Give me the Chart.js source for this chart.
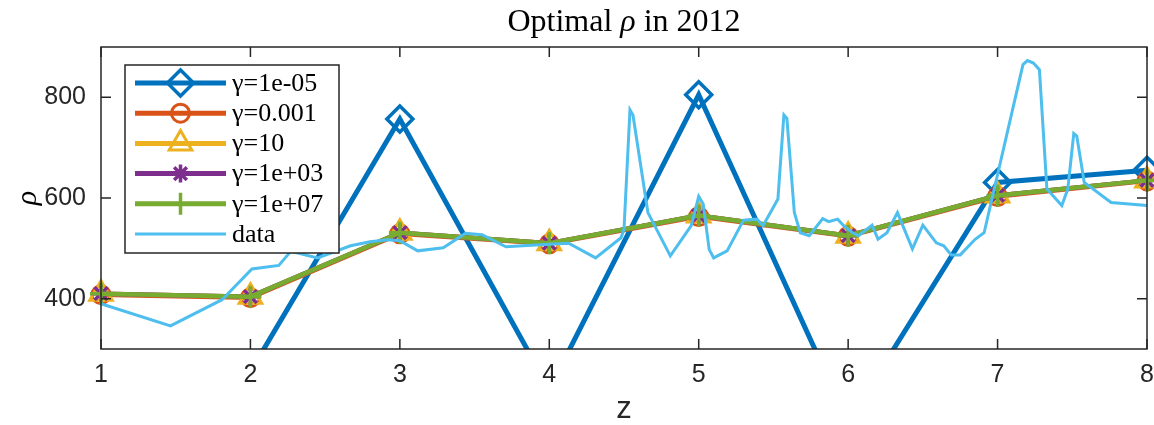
<!DOCTYPE html>
<html>
<head>
<meta charset="utf-8">
<script src="https://cdn.jsdelivr.net/npm/chart.js@4.4.1/dist/chart.umd.min.js"></script>
<style>
  html, body { margin: 0; padding: 0; background: #ffffff; }
  #wrap { width: 1154px; height: 425px; }
</style>
</head>
<body>
<div id="wrap"><canvas id="rhoChart" width="1154" height="425"></canvas></div>
<script>
// optimal rho per z, one list per gamma
const zPoints = [1, 2, 3, 4, 5, 6, 7, 8];
const rhoGamma1e05 = [190, 255, 757, 220, 805, 155, 631, 655];
const rhoGamma0001 = [408, 402, 529, 509, 563, 524, 603, 634];
const rhoGamma10 = [410, 404, 531, 510, 565, 525, 605, 635];
const rhoGamma1e03 = [410, 404, 531, 510, 565, 525, 605, 635];
const rhoGamma1e07 = [410, 404, 531, 510, 565, 525, 605, 635];

// observed rho
const dataZ = [1.00, 1.465, 1.81, 2.01, 2.19, 2.27, 2.45, 2.67, 2.80, 2.92, 3.00, 3.12, 3.29, 3.44, 3.55,
  3.71, 4.00, 4.13, 4.31, 4.48, 4.50, 4.54, 4.56, 4.66, 4.81, 4.95, 5.00, 5.03, 5.07, 5.10, 5.19,
  5.30, 5.39, 5.43, 5.48, 5.53, 5.57, 5.59, 5.64, 5.68, 5.74, 5.83, 5.87, 5.93, 5.97, 6.03, 6.07,
  6.16, 6.20, 6.26, 6.33, 6.43, 6.50, 6.59, 6.64, 6.69, 6.75, 6.85, 6.91, 7.17, 7.20, 7.24, 7.28,
  7.33, 7.43, 7.47, 7.51, 7.53, 7.58, 7.76, 8.00];
const dataRho = [390, 346, 398, 459, 466, 494, 481, 505, 513, 517, 515, 495, 501, 530, 527,
  503, 508, 510, 481, 521, 538, 775, 765, 571, 485, 545, 603, 588, 498, 481, 495,
  556, 558, 545, 571, 598, 765, 758, 571, 531, 525, 559, 553, 558, 545, 531, 525,
  546, 518, 531, 571, 499, 546, 511, 505, 487, 487, 518, 531, 865, 873, 868, 855,
  618, 585, 618, 728, 723, 631, 591, 585];

const xTicks = [1, 2, 3, 4, 5, 6, 7, 8];
const yTicks = [400, 600, 800];
const seriesLabels = ['γ=1e-05', 'γ=0.001', 'γ=10', 'γ=1e+03', 'γ=1e+07', 'data'];

const axisColor = '#262626';
const colors = ['#0072BD', '#D95319', '#EDB120', '#7E2F8E', '#77AC30', '#4DBEEE'];
const markers = [
  { style: 'rectRot', radius: 13, width: 3.5 },
  { style: 'circle', radius: 9, width: 3 },
  { style: 'triangle', radius: 13, width: 3 },
  { style: 'star', radius: 9, width: 3.5 },
  { style: 'cross', radius: 11, width: 3.5 },
  null
];

const toPoints = (xs, ys) => xs.map((x, i) => ({ x: x, y: ys[i] }));
const lineClip = { left: 20, right: 20, top: 0, bottom: 0 };

function gammaSet(i, values) {
  return {
    label: seriesLabels[i],
    data: toPoints(zPoints, values),
    borderColor: colors[i],
    borderWidth: i === 0 ? 5 : 4.5,
    pointStyle: markers[i].style,
    pointRadius: markers[i].radius,
    pointBorderWidth: markers[i].width,
    pointBorderColor: colors[i],
    pointBackgroundColor: 'rgba(0,0,0,0)',
    tension: 0,
    clip: lineClip,
    order: 5 - i
  };
}

// box around the axes with inward ticks, like a boxed plot
const axesBox = {
  id: 'axesBox',
  afterDatasetsDraw(chart) {
    const { ctx, chartArea: a, scales } = chart;
    ctx.save();
    ctx.strokeStyle = axisColor;
    ctx.lineWidth = 1.5;
    ctx.strokeRect(a.left, a.top, a.right - a.left, a.bottom - a.top);
    ctx.beginPath();
    xTicks.forEach(v => {
      const px = scales.x.getPixelForValue(v);
      ctx.moveTo(px, a.bottom); ctx.lineTo(px, a.bottom - 10);
      ctx.moveTo(px, a.top); ctx.lineTo(px, a.top + 10);
    });
    yTicks.forEach(v => {
      const py = scales.y.getPixelForValue(v);
      ctx.moveTo(a.left, py); ctx.lineTo(a.left + 10, py);
      ctx.moveTo(a.right, py); ctx.lineTo(a.right - 10, py);
    });
    ctx.stroke();
    ctx.restore();
  }
};

// title with an italic rho in the middle
const mixedTitle = {
  id: 'mixedTitle',
  afterDraw(chart) {
    const { ctx, chartArea: a } = chart;
    const roman = '32px "Liberation Serif", serif';
    const italic = 'italic 32px "Liberation Serif", serif';
    const parts = [['Optimal ', roman], ['ρ', italic], [' in 2012', roman]];
    ctx.save();
    ctx.fillStyle = '#000000';
    ctx.textBaseline = 'alphabetic';
    let total = 0;
    parts.forEach(p => { ctx.font = p[1]; total += ctx.measureText(p[0]).width; });
    let x = (a.left + a.right) / 2 - total / 2;
    parts.forEach(p => {
      ctx.font = p[1];
      ctx.fillText(p[0], x, 31);
      x += ctx.measureText(p[0]).width;
    });
    ctx.restore();
  }
};

// legend box in the upper left of the axes
const boxLegend = {
  id: 'boxLegend',
  afterDraw(chart) {
    const { ctx } = chart;
    const drawPoint = Chart.helpers && Chart.helpers.drawPoint;
    const left = 125, top = 65, w = 214, h = 188;
    ctx.save();
    ctx.fillStyle = '#ffffff';
    ctx.fillRect(left, top, w, h);
    ctx.strokeStyle = axisColor;
    ctx.lineWidth = 1.5;
    ctx.strokeRect(left, top, w, h);
    seriesLabels.forEach((label, i) => {
      const y = 83 + i * 30.2;
      ctx.strokeStyle = colors[i];
      ctx.lineWidth = i === 5 ? 3 : 5;
      ctx.beginPath();
      ctx.moveTo(135, y);
      ctx.lineTo(226, y);
      ctx.stroke();
      const m = markers[i];
      if (m && drawPoint) {
        ctx.fillStyle = 'rgba(0,0,0,0)';
        ctx.lineWidth = m.width;
        drawPoint(ctx, { pointStyle: m.style, radius: m.radius, rotation: 0, borderWidth: m.width }, 180.5, y);
      }
      ctx.fillStyle = '#000000';
      ctx.font = '26px "Liberation Serif", serif';
      ctx.textBaseline = 'middle';
      ctx.fillText(label, 232, y + 1);
    });
    ctx.restore();
  }
};

const tickFont = { family: '"Liberation Sans", Arial, sans-serif', size: 25 };

new Chart(document.getElementById('rhoChart'), {
  type: 'line',
  data: {
    datasets: [
      gammaSet(0, rhoGamma1e05),
      gammaSet(1, rhoGamma0001),
      gammaSet(2, rhoGamma10),
      gammaSet(3, rhoGamma1e03),
      gammaSet(4, rhoGamma1e07),
      {
        label: seriesLabels[5],
        data: toPoints(dataZ, dataRho),
        borderColor: colors[5],
        borderWidth: 3,
        pointRadius: 0,
        tension: 0,
        clip: lineClip,
        order: 0
      }
    ]
  },
  options: {
    responsive: false,
    animation: false,
    devicePixelRatio: 1,
    layout: { autoPadding: false, padding: { top: 47, right: 7, left: 0, bottom: 0 } },
    plugins: {
      legend: { display: false },
      title: { display: false },
      tooltip: { enabled: false }
    },
    scales: {
      x: {
        type: 'linear',
        min: 1,
        max: 8,
        afterBuildTicks: s => { s.ticks = xTicks.map(v => ({ value: v })); },
        afterFit: s => { s.height = 76; s.paddingLeft = 0; s.paddingRight = 0; },
        grid: { display: false, drawTicks: false },
        border: { display: false },
        ticks: { color: axisColor, font: tickFont, padding: 11, maxRotation: 0 },
        title: {
          display: true,
          text: 'z',
          color: axisColor,
          font: { family: '"Liberation Sans", Arial, sans-serif', size: 31, lineHeight: 1 },
          padding: { top: 0, bottom: 0 }
        }
      },
      y: {
        type: 'linear',
        min: 300,
        max: 900,
        afterBuildTicks: s => { s.ticks = yTicks.map(v => ({ value: v })); },
        afterFit: s => { s.width = 101; s.paddingTop = 0; s.paddingBottom = 0; },
        grid: { display: false, drawTicks: false },
        border: { display: false },
        ticks: { color: axisColor, font: tickFont, padding: 15 },
        title: {
          display: true,
          text: 'ρ',
          color: '#000000',
          font: { family: '"Liberation Serif", serif', size: 30, style: 'italic', lineHeight: 1 },
          padding: { top: 13, bottom: 0 }
        }
      }
    }
  },
  plugins: [axesBox, mixedTitle, boxLegend]
});
</script>
</body>
</html>
